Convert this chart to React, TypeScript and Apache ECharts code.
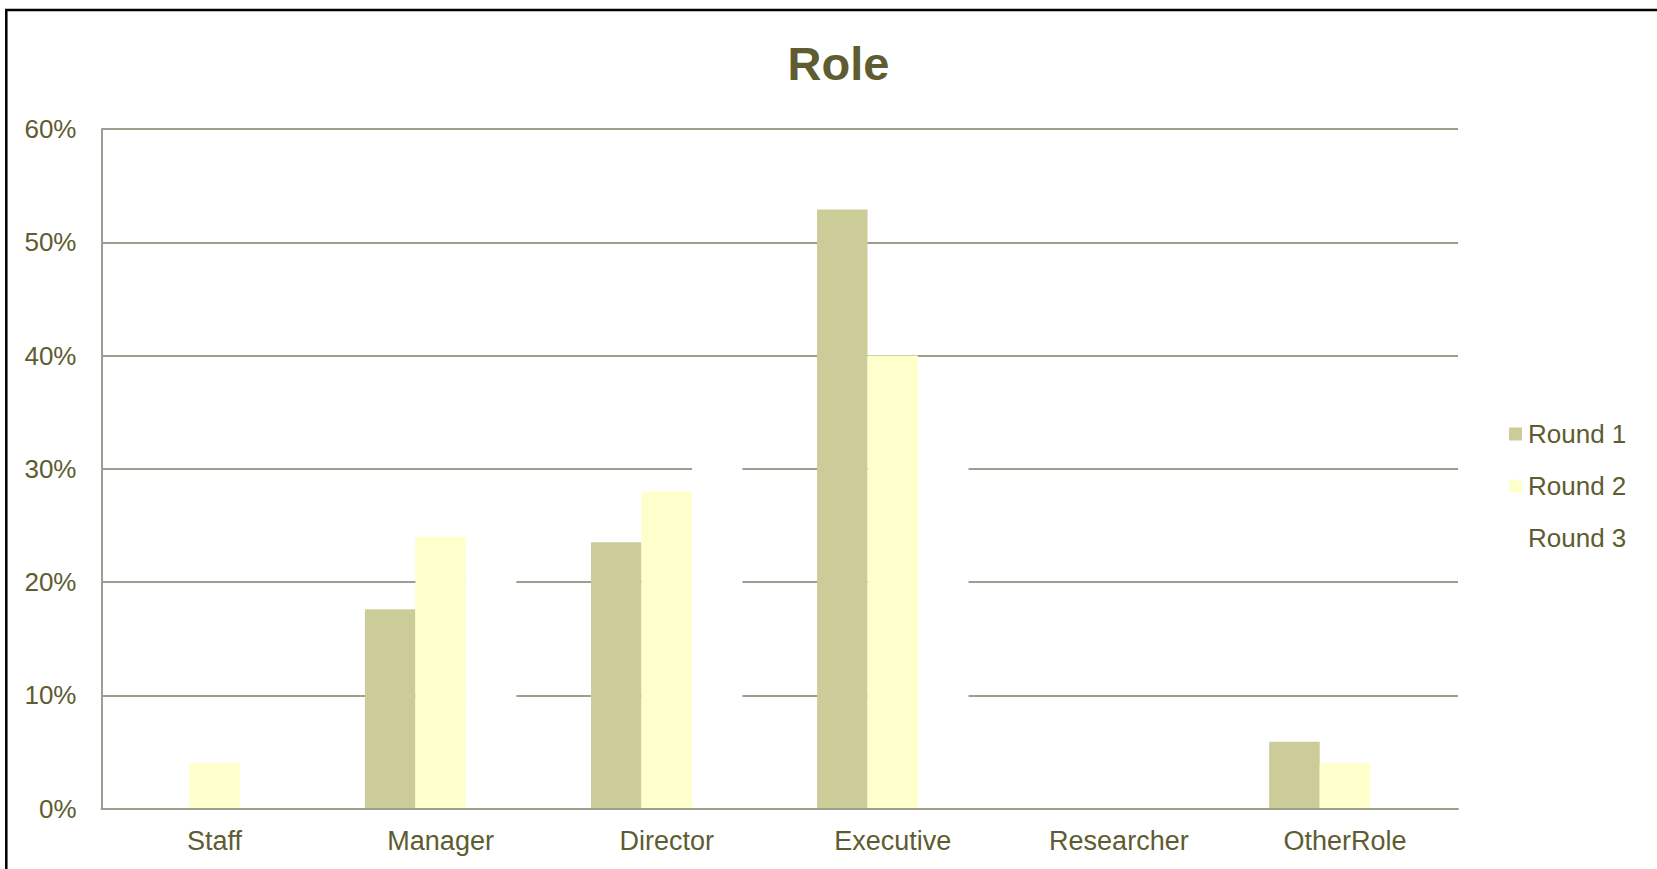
import React, { useEffect, useRef } from "react";
import * as echarts from "echarts";

const categories = ["Staff", "Manager", "Director", "Executive", "Researcher", "OtherRole"];
const round1 = [0, 17.6, 23.5, 52.9, 0, 5.9];
const round2 = [4, 24, 28, 40, 0, 4];
const round3 = [0, 25, 35, 35, 0, 5];
const seriesNames = ["Round 1", "Round 2", "Round 3"];
const yTicks = { min: 0, max: 60, interval: 10 };

const FONT = "'Liberation Sans', Arial, sans-serif";
const TEXT = "#5E5C30";
const GRID = "#9E9E8E";

export default function App() {
  const ref = useRef<HTMLDivElement>(null);
  useEffect(() => {
    if (!ref.current) return;
    const chart = echarts.init(ref.current, null, { renderer: "svg" });
    const barCommon = { type: "bar", barGap: "0%", barCategoryGap: "33%", z: 2 };
    chart.setOption({
      animation: false,
      backgroundColor: "#ffffff",
      title: {
        text: "Role",
        left: 838.5,
        textAlign: "center",
        top: 40,
        padding: 0,
        textStyle: { fontFamily: FONT, fontSize: 47, fontWeight: "bold", color: TEXT },
      },
      legend: {
        orient: "vertical",
        left: 1509,
        top: 421,
        padding: 0,
        itemWidth: 13,
        itemHeight: 13,
        itemGap: 26,
        icon: "rect",
        data: seriesNames,
        textStyle: { fontFamily: FONT, fontSize: 26, color: TEXT, lineHeight: 25, padding: [0, 0, 0, 1] },
      },
      grid: { left: 101.5, right: 199, top: 129, bottom: 60.5, containLabel: false },
      xAxis: {
        type: "category",
        data: categories,
        z: 5,
        axisLine: { show: true, lineStyle: { color: GRID, width: 2 } },
        axisTick: { show: false },
        axisLabel: { fontFamily: FONT, fontSize: 27, color: TEXT, margin: 19 },
        splitLine: { show: false },
      },
      yAxis: {
        type: "value",
        min: yTicks.min,
        max: yTicks.max,
        interval: yTicks.interval,
        z: 0,
        axisLine: { show: true, lineStyle: { color: GRID, width: 2 } },
        axisTick: { show: false },
        axisLabel: { fontFamily: FONT, fontSize: 26, color: TEXT, margin: 25, formatter: "{value}%" },
        splitLine: { show: true, lineStyle: { color: GRID, width: 2 } },
      },
      graphic: [
        {
          type: "rect",
          shape: { x: 6.3, y: 10, width: 1800, height: 1000 },
          style: { fill: "none", stroke: "#000000", lineWidth: 2.5 },
          z: 100,
          silent: true,
        },
      ],
      series: [
        { ...barCommon, name: seriesNames[0], data: round1, itemStyle: { color: "#CCCC99" } },
        { ...barCommon, name: seriesNames[1], data: round2, itemStyle: { color: "#FFFFCC" } },
        { ...barCommon, name: seriesNames[2], data: round3, itemStyle: { color: "#FFFFFF" } },
      ],
    });
    return () => chart.dispose();
  }, []);
  return (
    <div
      ref={ref}
      style={{ position: "absolute", left: 0, top: 0, width: 1657, height: 869 }}
    />
  );
}
